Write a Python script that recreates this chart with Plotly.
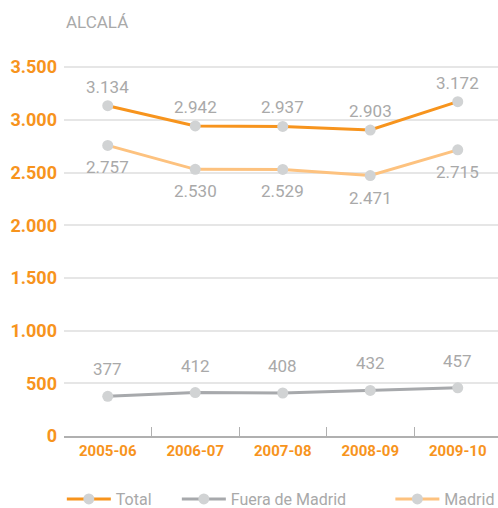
import plotly.graph_objects as go

categories = ["2005-06", "2006-07", "2007-08", "2008-09", "2009-10"]
total = [3134, 2942, 2937, 2903, 3172]
fuera = [377, 412, 408, 432, 457]
madrid = [2757, 2530, 2529, 2471, 2715]
y_ticks = [0, 500, 1000, 1500, 2000, 2500, 3000, 3500]

ORANGE = "#F7941D"
LIGHT = "#FDC27F"
GRAY_LINE = "#A7A9AC"
MARKER = "#D1D3D4"
TEXT_GRAY = "#A9A9A9"
TICK_ORANGE = "#F7941D"
FONT = "Roboto"

fig = go.Figure()


def fmt(v):
    return f"{v:,d}".replace(",", ".")


def add(name, y, color, legend, shift):
    fig.add_trace(go.Scatter(
        x=categories, y=y, name=name, mode="lines+markers",
        line=dict(color=color, width=3),
        marker=dict(color=MARKER, size=11),
        legend=legend, cliponaxis=False, hoverinfo="x+y",
    ))
    for c, v in zip(categories, y):
        fig.add_annotation(x=c, y=v, text=fmt(v), showarrow=False,
                           yanchor="middle", xanchor="center", yshift=shift,
                           font=dict(family=FONT, size=17, color=TEXT_GRAY))


add("Madrid", madrid, LIGHT, "legend3", -22)
add("Total", total, ORANGE, "legend", 19)
add("Fuera de Madrid", fuera, GRAY_LINE, "legend2", 27)

leg_common = dict(orientation="h", yanchor="middle", y=-0.17, xanchor="left",
                  font=dict(family=FONT, size=16, color=TEXT_GRAY),
                  bgcolor="rgba(0,0,0,0)", itemwidth=44)

fig.update_layout(
    width=498, height=508,
    margin=dict(l=64, r=0, t=65, b=72, autoexpand=False),
    paper_bgcolor="white", plot_bgcolor="white",
    separators=",.",
    showlegend=True,
    legend=dict(x=-0.005, **leg_common),
    legend2=dict(x=0.26, **leg_common),
    legend3=dict(x=0.752, **leg_common),
    title=dict(text="ALCALÁ", x=66 / 498, xanchor="left", y=1 - 22 / 508, yanchor="middle",
               font=dict(family=FONT, size=17, color=TEXT_GRAY)),
    xaxis=dict(
        type="category", range=[-0.5, 4.46],
        tickson="boundaries", ticks="inside", ticklen=9, tickcolor="#B0B0B0", tickwidth=1,
        showline=True, linecolor="#B0B0B0", linewidth=2,
        showgrid=False, zeroline=False,
        tickfont=dict(family=FONT, size=15, color=TICK_ORANGE, weight="bold"),
    ),
    yaxis=dict(
        range=[0, 3520], tickvals=y_ticks, tickformat=",d",
        showgrid=True, gridcolor="#E6E6E6", gridwidth=2,
        zeroline=False, showline=False, ticks="", ticklabelstandoff=6,
        tickfont=dict(family=FONT, size=18, color=TICK_ORANGE, weight="bold"),
    ),
)

fig.write_html("out.html", config={"displayModeBar": False},
               post_script="document.body.style.margin='0';document.body.style.overflow='hidden';")
